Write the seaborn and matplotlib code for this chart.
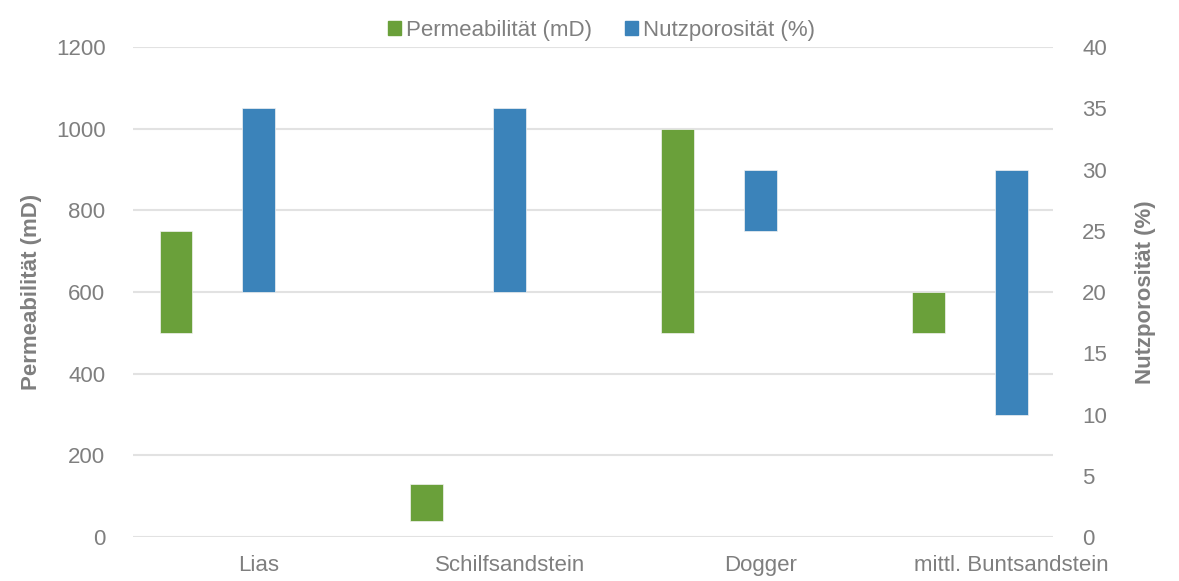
import numpy as np
import pandas as pd
import matplotlib
matplotlib.use("Agg")
import matplotlib.pyplot as plt
from matplotlib.patches import Patch
import seaborn as sns

categories = ["Lias", "Schilfsandstein", "Dogger", "mittl. Buntsandstein"]
perm_low = [500, 40, 500, 500]
perm_high = [750, 130, 1000, 600]
poro_low = [20, 20, 25, 10]
poro_high = [35, 35, 30, 30]

GREEN = "#6AA03A"
BLUE = "#3B83BA"
GREY = "#7F7F7F"
GRID = "#E2E2E2"
FS = 16

sns.set_theme(style="white")
plt.rcParams["font.family"] = ["Liberation Sans", "DejaVu Sans"]
plt.rcParams["font.size"] = FS

pos = np.arange(len(categories))
df = pd.DataFrame({
    "cat": categories,
    "x_perm": pos - 0.33,
    "x_poro": pos.astype(float),
    "perm_low": perm_low,
    "perm_span": np.array(perm_high) - np.array(perm_low),
    "poro_low": poro_low,
    "poro_span": np.array(poro_high) - np.array(poro_low),
})

fig = plt.figure(figsize=(11.79, 5.81), dpi=100)
ax = fig.add_axes([0.113, 0.0757, 0.78, 0.8433])
ax2 = ax.twinx()

sns.barplot(data=df, x="x_perm", y="perm_span", bottom=df["perm_low"],
            native_scale=True, width=0.13, color=GREEN, saturation=1,
            errorbar=None, edgecolor="#F2F2F2", linewidth=0.5, ax=ax, zorder=3)
sns.barplot(data=df, x="x_poro", y="poro_span", bottom=df["poro_low"],
            native_scale=True, width=0.13, color=BLUE, saturation=1,
            errorbar=None, edgecolor="#F2F2F2", linewidth=0.5, ax=ax2, zorder=3)

for a in (ax, ax2):
    a.set_xlim(-0.5, 3.165)
    for s in a.spines.values():
        s.set_visible(False)
    a.tick_params(length=0, colors=GREY, labelsize=FS)

ax.set_ylim(0, 1200)
ax.set_yticks(range(0, 1201, 200))
ax2.set_ylim(0, 40)
ax2.set_yticks(range(0, 41, 5))
ax.yaxis.grid(True, color=GRID, linewidth=1.5)
ax.set_axisbelow(True)
ax2.grid(False)

ax.set_xticks(pos)
ax.set_xticklabels(categories)
ax.tick_params(axis="x", pad=13)
ax.tick_params(axis="y", pad=20)
ax2.tick_params(axis="y", pad=21)

ax.set_xlabel("")
ax2.set_xlabel("")
ax.set_ylabel("Permeabilität (mD)", color=GREY, fontweight="bold",
              fontsize=FS, labelpad=10)
ax2.set_ylabel("Nutzporosität (%)", color=GREY, fontweight="bold",
               fontsize=FS, labelpad=20)

handles = [Patch(color=GREEN, label="Permeabilität (mD)"),
           Patch(color=BLUE, label="Nutzporosität (%)")]
leg = fig.legend(handles=handles, loc="upper center", bbox_to_anchor=(0.51, 1.0),
                 ncol=2, frameon=False, handlelength=0.6, handleheight=0.6,
                 handletextpad=0.2, columnspacing=1.5, fontsize=FS)
for t in leg.get_texts():
    t.set_color(GREY)

fig.savefig("out.png", dpi=100)
